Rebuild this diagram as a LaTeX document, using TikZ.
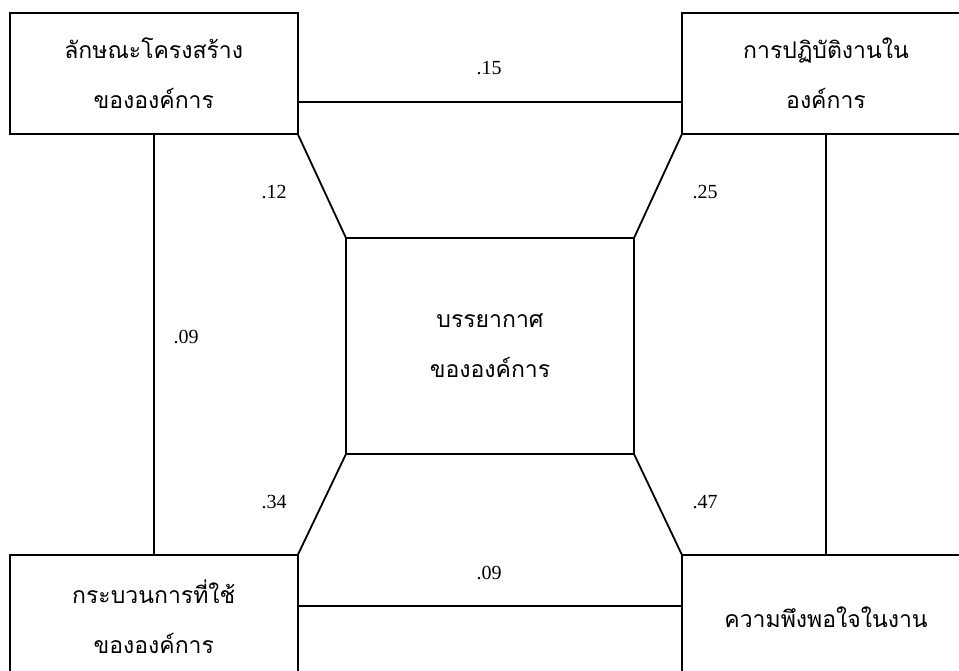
\documentclass[tikz,border=0pt]{standalone}
\usepackage{fontspec}
\setmainfont{Liberation Serif}
\newfontfamily\thaifont[Script=Thai]{Loma}
\begin{document}
\begin{tikzpicture}[x=1pt,y=-1pt,
  box/.style={draw, line width=1.8pt, minimum width=288pt, inner sep=0pt, outer sep=0pt, align=center,
    font=\thaifont\fontsize{23}{50}\selectfont},
  conn/.style={line width=1.8pt},
  num/.style={font=\fontsize{20}{22}\selectfont, inner sep=0pt}]
\useasboundingbox (0,0) rectangle (959,670);
\clip (0,0) rectangle (959,670);
\node[box, minimum height=121pt] (tl) at (153.75,73.5) {ลักษณะโครงสร้าง\\ขององค์การ};
\node[box, minimum height=121pt] (tr) at (826,73.5) {การปฏิบัติงานใน\\องค์การ};
\node[box, minimum width=288pt, minimum height=216pt] (c) at (490,346) {บรรยากาศ\\ขององค์การ};
\node[box, minimum height=124pt] (bl) at (153.75,617) {กระบวนการที่ใช้\\ขององค์การ};
\node[box, minimum height=124pt] (br) at (826,617) {ความพึงพอใจในงาน};
\draw[conn] ([yshift=32pt]tl.south east) -- ([yshift=32pt]tr.south west);
\draw[conn] ([yshift=-51pt]bl.north east) -- ([yshift=-51pt]br.north west);
\draw[conn] (tl.south) -- (bl.north);
\draw[conn] (tr.south) -- (br.north);
\draw[conn] (tl.south east) -- (c.north west);
\draw[conn] (tr.south west) -- (c.north east);
\draw[conn] (c.south west) -- (bl.north east);
\draw[conn] (c.south east) -- (br.north west);
\node[num] (l15) at (489,68) {.15};
\node[num] (l09b) at (489,573) {.09};
\node[num] (l09l) at (186,337) {.09};
\node[num] (l12) at (274,192) {.12};
\node[num] (l25) at (705,192) {.25};
\node[num] (l34) at (274,502) {.34};
\node[num] (l47) at (705,502) {.47};
\end{tikzpicture}
\end{document}
